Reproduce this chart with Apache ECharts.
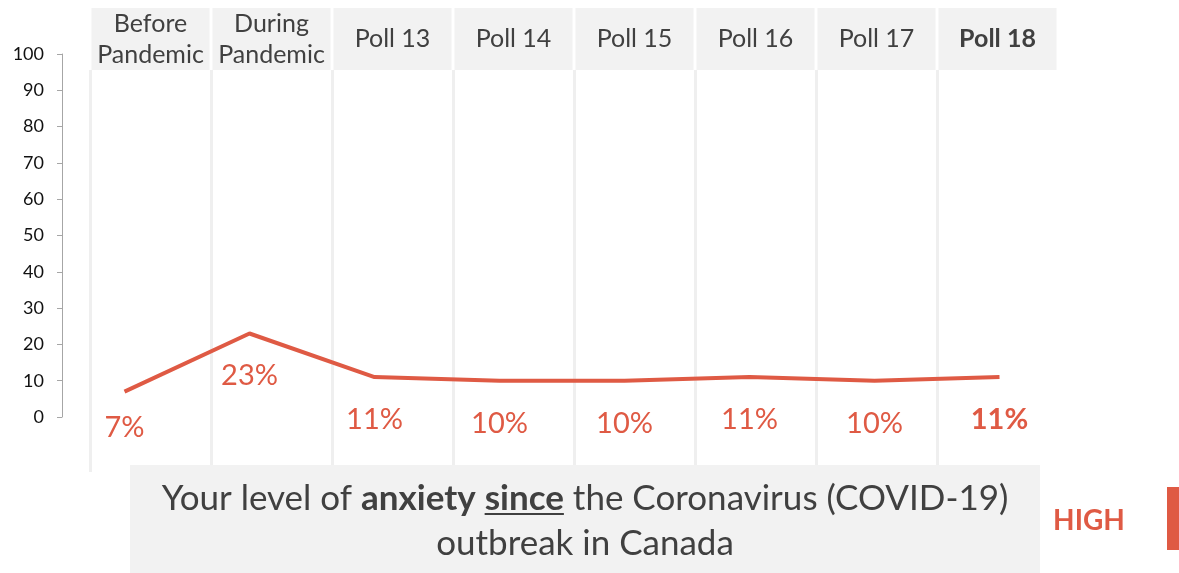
<!DOCTYPE html>
<html>
<head>
<meta charset="utf-8">
<script src="https://cdn.jsdelivr.net/npm/echarts@6/dist/echarts.min.js"></script>
<style>
  html, body { margin: 0; padding: 0; background: #fff; }
  #chart { width: 1179px; height: 573px; }
</style>
</head>
<body>
<div id="chart"></div>
<script>
  var categories = ['Before\nPandemic', 'During\nPandemic', 'Poll 13', 'Poll 14', 'Poll 15', 'Poll 16', 'Poll 17', 'Poll 18']
  var anxietyHigh = [7, 23, 11, 10, 10, 11, 10, 11]
  var yMin = 0
  var yMax = 100
  var yStep = 10

  var FONT = 'Lato, "Open Sans", sans-serif'
  var RED = '#df5a44'
  var GREY_TEXT = '#404040'
  var TITLE_SIZE = 35

  // need the width of "since" for the underline
  function measure(txt, weight) {
    var ctx = document.createElement('canvas').getContext('2d')
    ctx.font = (weight || 'normal') + ' ' + TITLE_SIZE + 'px ' + FONT
    return ctx.measureText(txt).width
  }
  var p1 = measure('Your level of ')
  var p2 = measure('anxiety', 'bold')
  var p3 = measure(' ')
  var p4 = measure('since', 'bold')
  var p5 = measure(' the Coronavirus (COVID-19)')
  var lineStart = 585 - (p1 + p2 + p3 + p4 + p5) / 2
  var sinceX = lineStart + p1 + p2 + p3

  var chart = echarts.init(document.getElementById('chart'))
  chart.setOption({
    animation: false,
    grid: [
      { left: 62, top: 54, width: 1000, height: 363 },
      { left: 90, top: 70, width: 847, height: 402 },
      { left: 90, top: 8, width: 968, height: 62 }
    ],
    xAxis: [
      {
        gridIndex: 0,
        type: 'category',
        data: categories,
        boundaryGap: true,
        show: false
      },
      {
        // column separators
        gridIndex: 1,
        type: 'value',
        min: 0,
        max: categories.length - 1,
        interval: 1,
        axisLine: { show: false },
        axisTick: { show: false },
        axisLabel: { show: false },
        splitLine: { show: true, lineStyle: { color: '#efefef', width: 3 } }
      },
      {
        gridIndex: 2,
        type: 'category',
        data: categories,
        boundaryGap: true,
        show: false
      }
    ],
    yAxis: [
      {
        gridIndex: 0,
        type: 'value',
        min: yMin,
        max: yMax,
        interval: yStep,
        axisLine: { show: true, lineStyle: { color: '#a6a6a6' } },
        axisTick: { show: true, length: 5, lineStyle: { color: '#a6a6a6' } },
        axisLabel: { color: '#111', fontSize: 18, fontFamily: FONT, margin: 18 },
        splitLine: { show: false }
      },
      { gridIndex: 1, type: 'value', show: false, splitLine: { show: false } },
      { gridIndex: 2, type: 'value', min: 0, max: 1, show: false }
    ],
    series: [
      {
        // header cells
        type: 'bar',
        xAxisIndex: 2,
        yAxisIndex: 2,
        data: categories.map(function () { return 1 }),
        barWidth: 118,
        itemStyle: { color: '#f2f2f2' },
        silent: true,
        label: {
          show: true,
          position: 'inside',
          formatter: function (p) {
            return p.dataIndex === categories.length - 1 ? '{b|' + p.name + '}' : p.name
          },
          fontFamily: FONT,
          fontSize: 25,
          lineHeight: 31,
          color: GREY_TEXT,
          rich: {
            b: { fontFamily: FONT, fontSize: 25, fontWeight: 'bold', color: GREY_TEXT, lineHeight: 31 }
          }
        },
        z: 1
      },
      {
        name: 'High',
        type: 'line',
        xAxisIndex: 0,
        yAxisIndex: 0,
        data: anxietyHigh.map(function (v, i) {
          var item = { value: v }
          if (i === 0) item.label = { distance: 22 }
          if (i === anxietyHigh.length - 1) item.label = { fontWeight: 'bold' }
          return item
        }),
        symbol: 'circle',
        symbolSize: 0,
        itemStyle: { color: RED },
        lineStyle: { color: RED, width: 4 },
        label: {
          show: true,
          position: 'bottom',
          distance: 28,
          formatter: '{c}%',
          color: RED,
          fontSize: 29,
          fontFamily: FONT
        },
        z: 5
      }
    ],
    graphic: [
      {
        type: 'rect',
        shape: { x: 130, y: 465, width: 910, height: 108 },
        style: { fill: '#f2f2f2' },
        z: 10
      },
      {
        type: 'text',
        z: 11,
        style: {
          x: 585,
          y: 521,
          text: 'Your level of {b|anxiety} {b|since} the Coronavirus (COVID-19)\noutbreak in Canada',
          align: 'center',
          verticalAlign: 'middle',
          fontFamily: FONT,
          fontSize: TITLE_SIZE,
          lineHeight: 45,
          fill: GREY_TEXT,
          rich: {
            b: { fontFamily: FONT, fontSize: TITLE_SIZE, fontWeight: 'bold', fill: GREY_TEXT, lineHeight: 45 }
          }
        }
      },
      {
        type: 'line',
        z: 11,
        shape: { x1: sinceX, y1: 514, x2: sinceX + p4, y2: 514 },
        style: { stroke: GREY_TEXT, lineWidth: 2 }
      },
      {
        type: 'text',
        z: 11,
        style: {
          x: 1089,
          y: 521,
          text: 'HIGH',
          align: 'center',
          verticalAlign: 'middle',
          fontFamily: FONT,
          fontSize: 28,
          fontWeight: 'bold',
          fill: RED
        }
      },
      {
        type: 'rect',
        z: 11,
        shape: { x: 1167, y: 487, width: 12, height: 63 },
        style: { fill: RED }
      }
    ]
  })
</script>
</body>
</html>
